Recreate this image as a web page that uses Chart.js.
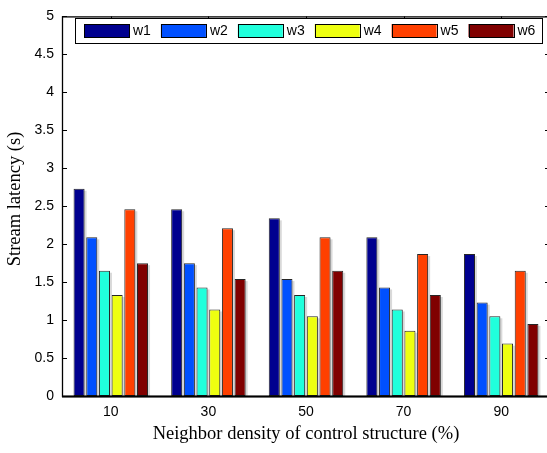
<!DOCTYPE html>
<html>
<head>
<meta charset="utf-8">
<script src="https://cdn.jsdelivr.net/npm/chart.js@4/dist/chart.umd.min.js"></script>
<style>
  html, body { margin: 0; padding: 0; overflow: hidden; background: #fff; }
  canvas { display: block; }
</style>
</head>
<body>
<canvas id="c" width="550" height="453"></canvas>
<script>
// Neighbor density categories (%)
const categories = ['10', '30', '50', '70', '90'];
// Stream latency (s) per workload
const seriesNames = ['w1', 'w2', 'w3', 'w4', 'w5', 'w6'];
const w1 = [2.73, 2.46, 2.34, 2.09, 1.87];
const w2 = [2.09, 1.75, 1.54, 1.43, 1.23];
const w3 = [1.65, 1.43, 1.33, 1.14, 1.05];
const w4 = [1.33, 1.14, 1.05, 0.86, 0.69];
const w5 = [2.46, 2.21, 2.09, 1.87, 1.65];
const w6 = [1.75, 1.54, 1.65, 1.33, 0.95];
const seriesValues = [w1, w2, w3, w4, w5, w6];
const seriesColors = ['#00008f', '#0050ff', '#20ffdc', '#eeff10', '#ff4000', '#800000'];
const yTicks = [0, 0.5, 1, 1.5, 2, 2.5, 3, 3.5, 4, 4.5, 5];

const SANS = '"Liberation Sans", Arial, sans-serif';
const SERIF = '"Liberation Serif", "Times New Roman", serif';

// Soft drop shadow behind every bar
const barShadow = {
  id: 'barShadow',
  beforeDatasetsDraw(chart) {
    const ctx = chart.ctx;
    ctx.save();
    ctx.fillStyle = 'rgba(0,0,0,0.15)';
    chart.data.datasets.forEach((ds, i) => {
      chart.getDatasetMeta(i).data.forEach(bar => {
        const p = bar.getProps(['x', 'y', 'base', 'width'], true);
        ctx.fillRect(p.x - p.width / 2 + 2, p.y + 2, p.width, p.base - p.y - 2);
      });
    });
    ctx.restore();
  }
};

// Boxed axes with inward ticks, axis titles and an in-plot legend
const frame = {
  id: 'frame',
  afterDraw(chart) {
    const ctx = chart.ctx;
    const a = chart.chartArea;
    const xs = chart.scales.x, ys = chart.scales.y;
    ctx.save();
    ctx.strokeStyle = '#000';
    ctx.lineWidth = 1;
    // ticks
    ctx.beginPath();
    yTicks.forEach(v => {
      const y = Math.round(ys.getPixelForValue(v)) + 0.5;
      ctx.moveTo(a.left, y); ctx.lineTo(a.left + 5, y);
      ctx.moveTo(a.right, y); ctx.lineTo(a.right - 5, y);
    });
    categories.forEach((c, i) => {
      const x = Math.round(xs.getPixelForValue(i)) + 0.5;
      ctx.moveTo(x, a.top); ctx.lineTo(x, a.top + 4);
    });
    ctx.stroke();
    // box
    ctx.lineWidth = 1.3;
    ctx.strokeRect(a.left + 0.5, a.top + 0.5, a.right - a.left - 1, a.bottom - a.top);
    ctx.lineWidth = 2;
    ctx.beginPath();
    ctx.moveTo(a.left, a.bottom + 0.5);
    ctx.lineTo(a.right, a.bottom + 0.5);
    ctx.stroke();

    // axis titles
    ctx.fillStyle = '#000';
    ctx.font = '18.5px ' + SERIF;
    ctx.textAlign = 'center';
    ctx.textBaseline = 'middle';
    ctx.fillText('Neighbor density of control structure (%)', 306, 434);
    ctx.save();
    ctx.translate(15, 199);
    ctx.rotate(-Math.PI / 2);
    ctx.fillText('Stream latency (s)', 0, 0);
    ctx.restore();

    // legend
    const lx = a.left + 13, ly = 18, lw = 467, lh = 25;
    ctx.fillStyle = '#fff';
    ctx.fillRect(lx, ly, lw, lh);
    ctx.lineWidth = 1;
    ctx.strokeRect(lx + 0.5, ly + 0.5, lw, lh);
    ctx.font = '14px ' + SANS;
    ctx.textAlign = 'left';
    chart.data.datasets.forEach((ds, i) => {
      const sx = lx + 9 + i * 76.9;
      ctx.fillStyle = ds.backgroundColor;
      ctx.fillRect(sx, ly + 6, 45, 13);
      ctx.strokeStyle = '#000';
      ctx.strokeRect(Math.round(sx) + 0.5, ly + 6.5, 45, 13);
      ctx.fillStyle = '#000';
      ctx.fillText(ds.label, sx + 49, ly + 13);
    });
    ctx.restore();
  }
};

new Chart(document.getElementById('c'), {
  type: 'bar',
  data: {
    labels: categories,
    datasets: seriesNames.map((name, i) => ({
      label: name,
      data: seriesValues[i],
      backgroundColor: seriesColors[i],
      borderColor: 'rgba(0,0,0,0.85)',
      borderWidth: 1,
      borderSkipped: false,
      categoryPercentage: 0.78,
      barPercentage: 0.87
    }))
  },
  options: {
    responsive: false,
    animation: false,
    devicePixelRatio: 1,
    layout: { padding: { top: 12, left: 0, right: 0, bottom: 0 } },
    plugins: { legend: { display: false }, tooltip: { enabled: false } },
    scales: {
      x: {
        grid: { display: false, drawTicks: false },
        border: { display: false },
        ticks: { color: '#000', font: { family: SANS, size: 14 }, padding: 8, maxRotation: 0 },
        afterFit(s) { s.height = 57; }
      },
      y: {
        min: 0, max: 5,
        afterBuildTicks(s) { s.ticks = yTicks.map(v => ({ value: v })); },
        grid: { display: false, drawTicks: false },
        border: { display: false },
        ticks: { color: '#000', font: { family: SANS, size: 14 }, padding: 8,
                 callback: v => String(v) },
        afterFit(s) { s.width = 62; }
      }
    }
  },
  plugins: [barShadow, frame]
});
</script>
</body>
</html>
